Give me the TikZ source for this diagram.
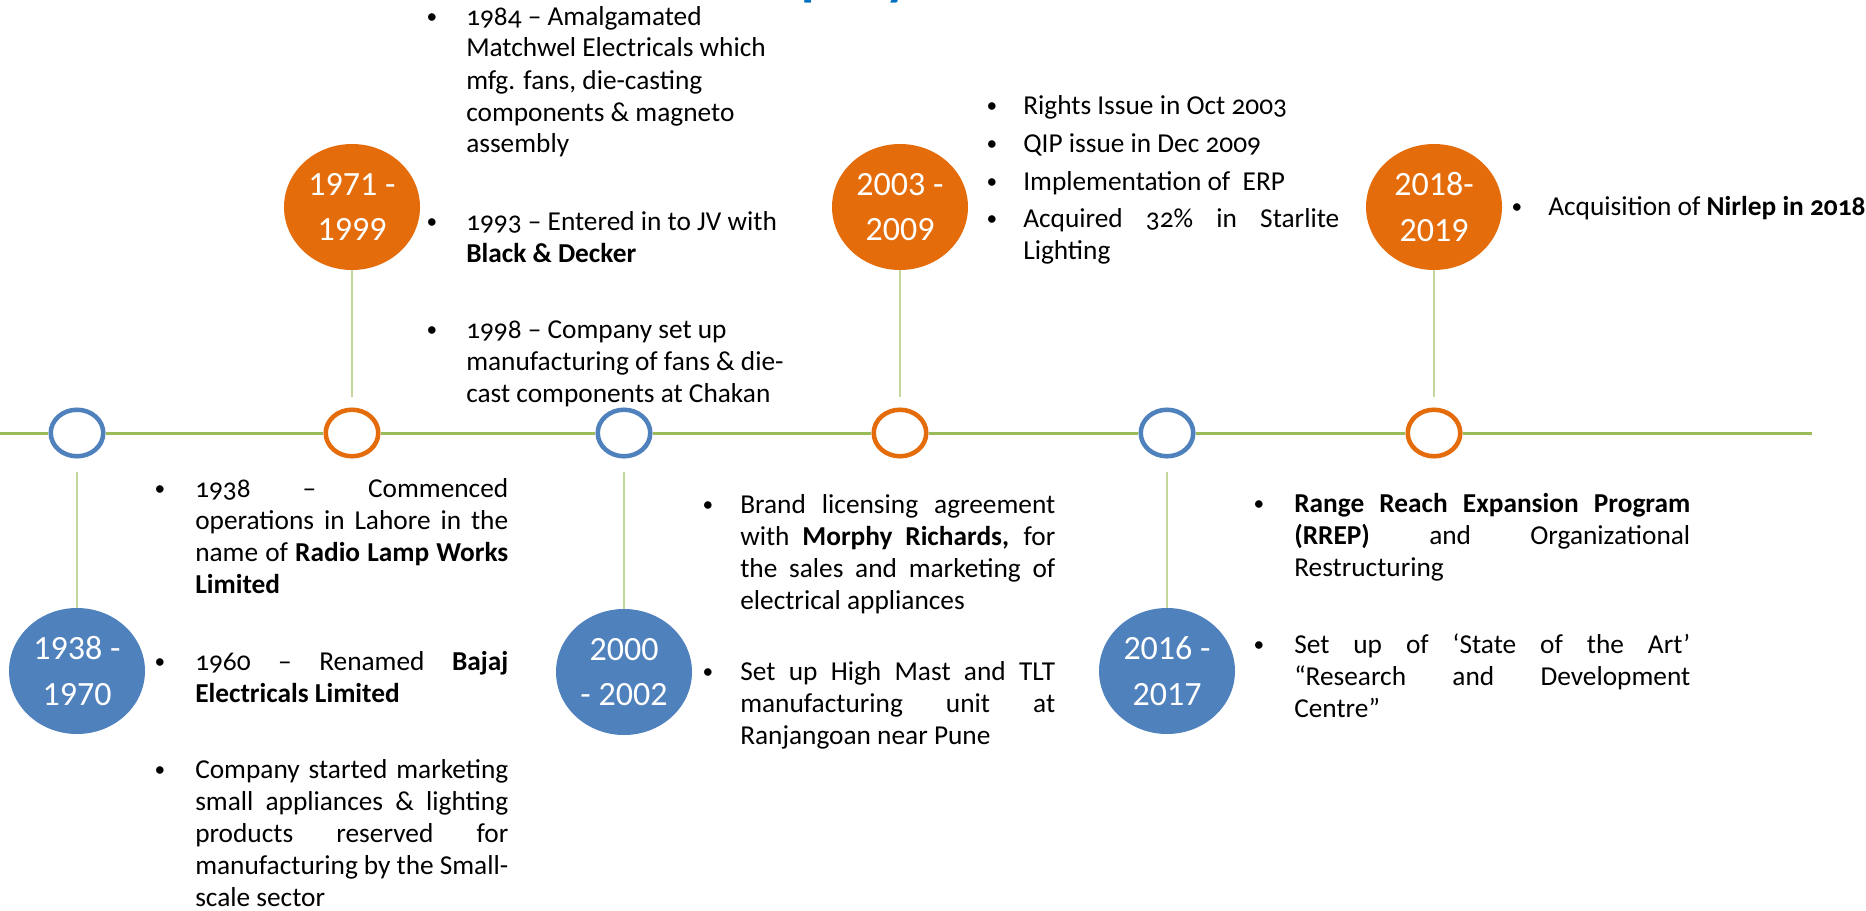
\documentclass[tikz,border=0pt]{standalone}
\usepackage{fontspec}
\setmainfont{Carlito}[Numbers=OldStyle]
\newfontfamily\circfont{Carlito}[Numbers=Lining]
\newfontfamily\titlefont{Carlito}[Numbers=Lining]
\usetikzlibrary{shapes.geometric}
\definecolor{tlblue}{RGB}{79,129,189}
\definecolor{tlorange}{RGB}{228,108,10}
\definecolor{tlgreen}{RGB}{155,187,89}
\definecolor{tllight}{RGB}{195,214,155}
\definecolor{ttlblue}{RGB}{0,112,192}
\newcommand{\jline}[1]{\makebox[\linewidth][s]{#1}}
\tikzset{
  smallc/.style={ellipse, draw, line width=3.4pt, fill=white, minimum width=39.4pt, minimum height=34.9pt, inner sep=0pt},
  bigc/.style={ellipse, minimum width=102pt, minimum height=94.5pt, inner sep=0pt, text=white, font=\circfont\fontsize{25.5pt}{34pt}\selectfont, align=center},
  bul/.style={anchor=base, inner sep=0pt, yshift=1.5pt, font=\fontsize{16pt}{24pt}\selectfont},
  itemtext/.style={anchor=base west, inner sep=0pt, font=\fontsize{20.5pt}{24pt}\selectfont},
  vconn/.style={draw=tllight, line width=1.5pt},
  hline/.style={draw=tlgreen, line width=2.25pt},
}
\begin{document}
\begin{tikzpicture}[x=0.75pt,y=-0.75pt]
\useasboundingbox (0,0) rectangle (1866,910);
\begin{scope}
  \clip (0,0) rectangle (1866,910);
  \node[anchor=base west, inner sep=0pt, text=ttlblue, font=\titlefont\bfseries\fontsize{41pt}{41pt}\selectfont] (title) at (698,-6) {Company};
\end{scope}

% main line
\coordinate (L0) at (0,433);
\coordinate (L1) at (1812,433);
\node[smallc, draw=tlblue]   (s1) at (77,433) {};
\node[smallc, draw=tlorange] (s2) at (352,433) {};
\node[smallc, draw=tlblue]   (s3) at (624,433) {};
\node[smallc, draw=tlorange] (s4) at (900,433) {};
\node[smallc, draw=tlblue]   (s5) at (1167,433) {};
\node[smallc, draw=tlorange] (s6) at (1434,433) {};
\draw[hline] (L0) -- (s1) -- (s2) -- (s3) -- (s4) -- (s5) -- (s6) -- (L1);

% period circles
\node[bigc, fill=tlblue]   (b1) at (77,671)  {1938 -\\1970};
\node[bigc, fill=tlorange] (b2) at (352,207) {1971 -\\1999};
\node[bigc, fill=tlblue]   (b3) at (624,672) {2000\\- 2002};
\node[bigc, fill=tlorange] (b4) at (900,207) {2003 -\\2009};
\node[bigc, fill=tlblue]   (b5) at (1167,671) {2016 -\\2017};
\node[bigc, fill=tlorange] (b6) at (1434,207) {2018-\\2019};

% connectors
\draw[vconn, shorten <=10pt] (s1) -- (b1);
\draw[vconn, shorten >=8pt]  (b2) -- (s2);
\draw[vconn, shorten <=10pt] (s3) -- (b3);
\draw[vconn, shorten >=8pt]  (b4) -- (s4);
\draw[vconn, shorten <=10pt] (s5) -- (b5);
\draw[vconn, shorten >=8pt]  (b6) -- (s6);

% 1938-1970
\node[bul] (u1a) at (160,497) {\textbullet};
\node[itemtext] (t1a) at (195,497) {\parbox[t]{234.75pt}{\jline{1938 – Commenced}\\ \jline{operations in Lahore in the}\\ \jline{name of \textbf{Radio Lamp Works}}\\ \textbf{Limited}}};
\node[bul] (u1b) at (160,670) {\textbullet};
\node[itemtext] (t1b) at (195,670) {\parbox[t]{234.75pt}{\jline{1960 – Renamed \textbf{Bajaj}}\\ \textbf{Electricals Limited}}};
\node[bul] (u1c) at (160,778) {\textbullet};
\node[itemtext] (t1c) at (195,778) {\parbox[t]{234.75pt}{\jline{Company started marketing}\\ \jline{small appliances \& lighting}\\ \jline{products reserved for}\\ \jline{manufacturing by the Small-}\\ scale sector}};

% 1971-1999
\node[bul] (u2a) at (432,25) {\textbullet};
\node[itemtext] (t2a) at (466,25) {\parbox[t]{260pt}{1984 – Amalgamated\\ Matchwel Electricals which\\ mfg. fans, die-casting\\ components \& magneto\\ assembly}};
\node[bul] (u2b) at (432,230) {\textbullet};
\node[itemtext] (t2b) at (466,230) {\parbox[t]{260pt}{1993 – Entered in to JV with\\ \textbf{Black \& Decker}}};
\node[bul] (u2c) at (432,338) {\textbullet};
\node[itemtext] (t2c) at (466,338) {\parbox[t]{260pt}{1998 – Company set up\\ manufacturing of fans \& die-\\ cast components at Chakan}};

% 2000-2002
\node[bul] (u3a) at (708,513) {\textbullet};
\node[itemtext] (t3a) at (740,513) {\parbox[t]{236.25pt}{\jline{Brand licensing agreement}\\ \jline{with \textbf{Morphy Richards,} for}\\ \jline{the sales and marketing of}\\ electrical appliances}};
\node[bul] (u3b) at (708,680) {\textbullet};
\node[itemtext] (t3b) at (740,680) {\parbox[t]{236.25pt}{\jline{Set up High Mast and TLT}\\ \jline{manufacturing unit at}\\ Ranjangoan near Pune}};

% 2003-2009
\node[bul] (u4a) at (992,114) {\textbullet};
\node[itemtext] (t4a) at (1023,114) {Rights Issue in Oct 2003};
\node[bul] (u4b) at (992,152) {\textbullet};
\node[itemtext] (t4b) at (1023,152) {QIP issue in Dec 2009};
\node[bul] (u4c) at (992,190) {\textbullet};
\node[itemtext] (t4c) at (1023,190) {Implementation of\ \ ERP};
\node[bul] (u4d) at (992,227) {\textbullet};
\node[itemtext] (t4d) at (1023,227) {\parbox[t]{237pt}{\jline{Acquired 32\% in Starlite}\\ Lighting}};

% 2016-2017
\node[bul] (u5a) at (1259,512) {\textbullet};
\node[itemtext] (t5a) at (1294,512) {\parbox[t]{297pt}{\jline{\textbf{Range Reach Expansion Program}}\\ \jline{\textbf{(RREP)} and Organizational}\\ Restructuring}};
\node[bul] (u5b) at (1259,653) {\textbullet};
\node[itemtext] (t5b) at (1294,653) {\parbox[t]{297pt}{\jline{Set up of ‘State of the Art’}\\ \jline{“Research and Development}\\ Centre”}};

% 2018-2019
\node[bul] (u6a) at (1517,215) {\textbullet};
\node[itemtext] (t6a) at (1548,215) {Acquisition of \textbf{Nirlep in 2018}};
\end{tikzpicture}
\end{document}
